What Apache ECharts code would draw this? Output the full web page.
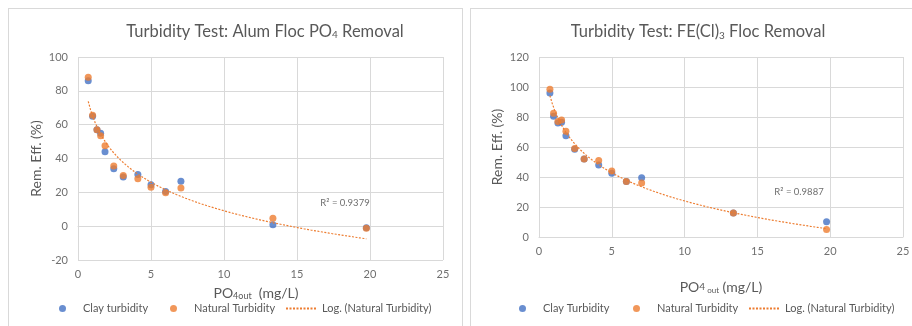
<!DOCTYPE html>
<html>
<head>
<meta charset="utf-8">
<script src="https://cdn.jsdelivr.net/npm/echarts@6/dist/echarts.min.js"></script>
<style>
  html, body { margin: 0; padding: 0; background: #fff; width: 912px; height: 326px; overflow: hidden; }
  .panel { position: absolute; top: 8px; height: 326px; border: 1px solid #d9d9d9; box-sizing: border-box; background: #fff; }
  #alum { left: 8px; width: 455px; }
  #ferric { left: 470px; width: 450px; }
</style>
</head>
<body>
<div id="alum" class="panel"></div>
<div id="ferric" class="panel"></div>
<script>
// PO4 remaining in the water (mg/L), one value per jar
const alumPO4Out   = [0.7, 1.0, 1.3, 1.55, 1.85, 2.45, 3.1, 4.1, 5.0, 6.0, 7.05, 13.35, 19.75];
const alumClay     = [86, 65, 57, 55, 44, 34, 29, 30.5, 24.5, 20.5, 26.5, 0.8, -1];
const alumNatural  = [88, 65.5, 57, 53.5, 47.5, 35.5, 30, 28, 23, 19.7, 22.5, 4.7, -1.2];

const ferricPO4Out  = [0.75, 1.0, 1.3, 1.55, 1.85, 2.45, 3.1, 4.1, 5.0, 6.0, 7.05, 13.35, 19.75];
const ferricClay    = [96, 80.5, 76, 76.5, 67.5, 58.5, 52, 48, 42.5, 37, 39.5, 16, 10.2];
const ferricNatural = [98.5, 82.5, 77, 78, 70.5, 59, 52, 51, 44, 37, 36, 16, 5];

const alumR2Text   = 'R² = 0.9379';
const ferricR2Text = 'R² = 0.9887';

const xTicks = { min: 0, max: 25, interval: 5 };
const alumYTicks = { min: -20, max: 100, interval: 20 };
const ferricYTicks = { min: 0, max: 120, interval: 20 };

const BLUE = '#4472c4';
const ORANGE = '#ed7d31';
const TEXT = '#595959';
const LABEL = '#6f6f6f';
const GRID = '#d9d9d9';
const FONT = 'Lato, "Open Sans", sans-serif';
const TREND_NAME = 'Log. (Natural Turbidity)';

// Least-squares fit of y = a*ln(x) + b (logarithmic trendline)
function logFit(xs, ys) {
  const lx = xs.map(Math.log);
  const n = xs.length;
  const mx = lx.reduce((s, v) => s + v, 0) / n;
  const my = ys.reduce((s, v) => s + v, 0) / n;
  let sxy = 0, sxx = 0;
  for (let i = 0; i < n; i++) {
    sxy += (lx[i] - mx) * (ys[i] - my);
    sxx += (lx[i] - mx) * (lx[i] - mx);
  }
  const a = sxy / sxx;
  return { a, b: my - a * mx };
}

function trendPoints(xs, ys) {
  const f = logFit(xs, ys);
  const lo = Math.min(...xs), hi = Math.max(...xs);
  const pts = [];
  const steps = 120;
  for (let i = 0; i <= steps; i++) {
    const x = lo + (hi - lo) * i / steps;
    pts.push([x, f.a * Math.log(x) + f.b]);
  }
  return pts;
}

function pairs(xs, ys) { return xs.map((x, i) => [x, ys[i]]); }

// one legend block per entry so each entry sits at its own spot
function legendEntry(left, item) {
  return {
    left: left, top: 294, padding: 0,
    itemWidth: 31, itemHeight: 7,
    textStyle: { color: TEXT, fontSize: 11, fontFamily: FONT },
    data: [item]
  };
}

function build(cfg) {
  return {
    animation: false,
    textStyle: { fontFamily: FONT },
    grid: cfg.grid,
    legend: [
      legendEntry(cfg.legendLefts[0], { name: cfg.clayName, icon: 'circle' }),
      legendEntry(cfg.legendLefts[1], { name: 'Natural Turbidity', icon: 'circle' }),
      legendEntry(cfg.legendLefts[2], { name: TREND_NAME, itemStyle: { opacity: 0 } })
    ],
    xAxis: {
      type: 'value', min: xTicks.min, max: xTicks.max, interval: xTicks.interval,
      axisLine: { onZero: true, lineStyle: { color: GRID, width: 1 } },
      axisTick: { show: false },
      axisLabel: { color: LABEL, fontSize: 11, margin: 9, fontFamily: FONT },
      splitLine: { lineStyle: { color: GRID, width: 1 } }
    },
    yAxis: {
      type: 'value', min: cfg.yTicks.min, max: cfg.yTicks.max, interval: cfg.yTicks.interval,
      name: 'Rem. Eff. (%)', nameLocation: 'middle', nameGap: 35, nameMoveOverlap: false,
      nameTextStyle: { color: TEXT, fontSize: 14, fontFamily: FONT },
      axisLine: { show: false },
      axisTick: { show: false },
      axisLabel: { color: LABEL, fontSize: 11, margin: 10, fontFamily: FONT },
      splitLine: { lineStyle: { color: GRID, width: 1 } }
    },
    graphic: [
      {
        type: 'text', x: cfg.titlePos[0], y: cfg.titlePos[1],
        style: { text: cfg.titleText, rich: cfg.titleRich, fill: TEXT, font: '16.5px ' + FONT, align: 'center', verticalAlign: 'middle' }
      },
      {
        type: 'text', x: cfg.xNamePos[0], y: cfg.xNamePos[1],
        style: { text: cfg.xNameText, rich: cfg.xNameRich, fill: TEXT, font: '13px ' + FONT, align: 'center', verticalAlign: 'middle' }
      },
      {
        type: 'text', x: cfg.r2Pos[0], y: cfg.r2Pos[1],
        style: { text: cfg.r2Text, fill: LABEL, font: '9.5px ' + FONT, align: 'center', verticalAlign: 'middle' }
      }
    ],
    series: [
      {
        name: cfg.clayName, type: 'scatter', symbolSize: 7, z: 2,
        itemStyle: { color: BLUE },
        data: pairs(cfg.xs, cfg.clay)
      },
      {
        name: 'Natural Turbidity', type: 'scatter', symbolSize: 7, z: 3,
        itemStyle: { color: ORANGE },
        data: pairs(cfg.xs, cfg.natural)
      },
      {
        name: TREND_NAME, type: 'line', symbol: 'none', z: 4,
        color: ORANGE,
        lineStyle: { color: ORANGE, width: 1.2, type: [2, 1.5] },
        data: trendPoints(cfg.xs, cfg.natural)
      }
    ]
  };
}

const subRich = (size, pad) => ({ fontSize: size, fill: TEXT, fontFamily: FONT, padding: [pad, 0, 0, 0] });

const alumChart = echarts.init(document.getElementById('alum'), null, { renderer: 'canvas' });
alumChart.setOption(build({
  grid: { left: 69, top: 48, width: 365, height: 203 },
  yTicks: alumYTicks,
  xs: alumPO4Out, clay: alumClay, natural: alumNatural,
  clayName: 'Clay turbidity',
  legendLefts: [50, 161, 276],
  titleText: '{t|Turbidity Test: Alum Floc PO}{s|4}{t| Removal}',
  titleRich: { t: { fontSize: 16.5, fill: TEXT, fontFamily: FONT }, s: subRich(10, 6) },
  titlePos: [256, 23],
  xNameText: '{t|PO}{s|4out}{t|  (mg/L)}',
  xNameRich: { t: { fontSize: 14, fill: TEXT, fontFamily: FONT }, s: subRich(9, 7) },
  xNamePos: [247, 284],
  r2Text: alumR2Text, r2Pos: [336, 194]
}));

const ferricChart = echarts.init(document.getElementById('ferric'), null, { renderer: 'canvas' });
ferricChart.setOption(build({
  grid: { left: 68, top: 48, width: 364, height: 180 },
  yTicks: ferricYTicks,
  xs: ferricPO4Out, clay: ferricClay, natural: ferricNatural,
  clayName: 'Clay Turbidity',
  legendLefts: [48, 162, 277],
  titleText: '{t|Turbidity Test: FE(Cl)}{s|3}{t| Floc Removal}',
  titleRich: { t: { fontSize: 16.5, fill: TEXT, fontFamily: FONT }, s: subRich(10, 7) },
  titlePos: [227, 23],
  xNameText: '{t|PO}{m|4}{s| out}{t| (mg/L)}',
  xNameRich: { t: { fontSize: 14, fill: TEXT, fontFamily: FONT }, m: { fontSize: 10, fill: TEXT, fontFamily: FONT }, s: subRich(8, 7) },
  xNamePos: [250, 278],
  r2Text: ferricR2Text, r2Pos: [328, 183]
}));
</script>
</body>
</html>
